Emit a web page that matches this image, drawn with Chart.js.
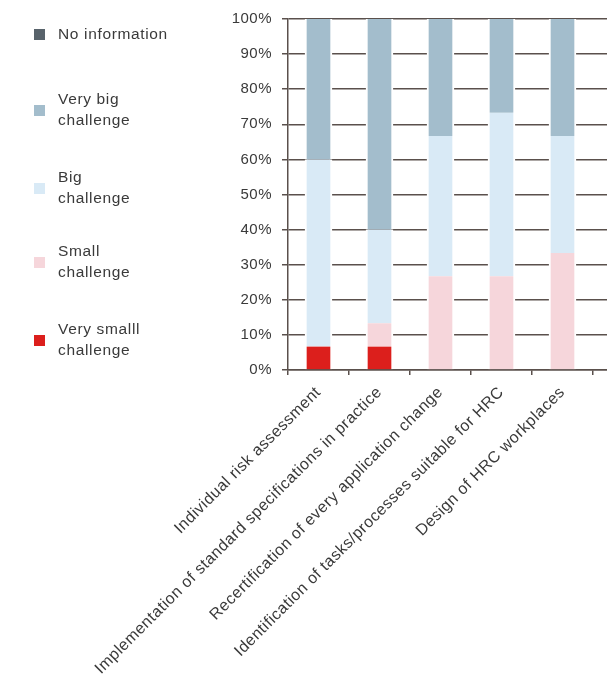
<!DOCTYPE html>
<html>
<head>
<meta charset="utf-8">
<script src="https://cdn.jsdelivr.net/npm/chart.js@4.4.1/dist/chart.umd.min.js"></script>
<style>
  html, body { margin: 0; padding: 0; background: #fff; overflow: hidden; }
  body { width: 607px; height: 686px; position: relative; }
  #wrap { position: absolute; left: 0; top: 0; width: 654px; height: 686px; }
  #legend { position: absolute; left: 34px; top: 0; font-family: "Liberation Sans", Arial, sans-serif;
            font-size: 15.5px; letter-spacing: 0.65px; color: #3a3a3a; }
  .item { position: absolute; left: 0; white-space: nowrap; }
  .box { position: absolute; left: 0; width: 11px; height: 11px; }
  .txt { position: absolute; left: 24px; line-height: 21px; }
</style>
</head>
<body>
<div id="wrap"><canvas id="chart"></canvas></div>
<div id="legend"></div>
<script>
// categorias (a ultima fica fora da janela, como no original recortado)
const categories = [
    'Individual risk assessment',
    'Implementation of standard specifications in practice',
    'Recertification of every application change',
    'Identification of tasks/processes suitable for HRC',
    'Design of HRC workplaces',
    ''
];

// percentagens por resposta
const verySmall   = [6.7, 6.7, 0, 0, 0, null];
const small       = [0, 6.6, 26.7, 26.7, 33.3, null];
const big         = [53.3, 26.7, 40, 46.6, 33.4, null];
const veryBig     = [40, 60, 33.3, 26.7, 33.3, null];
const noInfo      = [0, 0, 0, 0, 0, null];

const seriesNames  = ['Very smalll\nchallenge', 'Small\nchallenge', 'Big\nchallenge', 'Very big\nchallenge', 'No information'];
const seriesColors = ['#dc1f1c', '#f6d6db', '#d9eaf6', '#a3bdcc', '#58636b'];
const yTicks = [0, 10, 20, 30, 40, 50, 60, 70, 80, 90, 100];

const axisColor = '#5a504c';
const fontFamily = '"Liberation Sans", Arial, sans-serif';

const seriesData = [verySmall, small, big, veryBig, noInfo];

const datasets = seriesData.map((data, i) => ({
    label: seriesNames[i],
    data: data,
    backgroundColor: seriesColors[i],
    borderColor: '#ffffff',
    borderWidth: { left: 2, right: 2, top: 0, bottom: 0 },
    borderSkipped: false,
    barThickness: 27
}));

// espaçamento entre letras, como no original
const spacingPlugin = {
    id: 'spacing',
    beforeLayout(chart) { chart.ctx.letterSpacing = '0.5px'; },
    beforeDraw(chart) { chart.ctx.letterSpacing = '0.5px'; }
};

new Chart(document.getElementById('chart'), {
    type: 'bar',
    data: { labels: categories, datasets: datasets },
    plugins: [spacingPlugin],
    options: {
        responsive: true,
        maintainAspectRatio: false,
        animation: false,
        layout: { padding: { left: 220, top: 18, right: 0, bottom: 0 } },
        plugins: {
            legend: { display: false },
            tooltip: { enabled: false }
        },
        scales: {
            x: {
                stacked: true,
                afterFit: (scale) => { scale.height = 316; },
                grid: {
                    display: true,
                    offset: true,
                    drawOnChartArea: false,
                    drawTicks: true,
                    tickLength: 5,
                    color: axisColor,
                    lineWidth: 1.5
                },
                border: { display: true, color: axisColor, width: 1.5 },
                ticks: {
                    autoSkip: false,
                    minRotation: 45,
                    maxRotation: 45,
                    padding: 8,
                    color: '#3a3a3a',
                    font: { family: fontFamily, size: 16 }
                }
            },
            y: {
                stacked: true,
                min: 0,
                max: 100,
                afterFit: (scale) => { scale.width = 68; },
                afterBuildTicks: (scale) => { scale.ticks = yTicks.map(v => ({ value: v })); },
                grid: {
                    color: axisColor,
                    lineWidth: 1.5,
                    tickLength: 6,
                    z: -1
                },
                border: { display: true, color: axisColor, width: 1.5 },
                ticks: {
                    padding: 10,
                    color: '#3a3a3a',
                    font: { family: fontFamily, size: 15 },
                    callback: (v) => v + '%'
                }
            }
        }
    }
});

// legenda em HTML (ordem de cima para baixo)
const legendTops = [34, 110, 188, 262, 340];
const legendEl = document.getElementById('legend');
[4, 3, 2, 1, 0].forEach((idx, k) => {
    const lines = seriesNames[idx].split('\n');
    const y = legendTops[k];
    const item = document.createElement('div');
    item.className = 'item';
    item.style.top = y + 'px';
    const box = document.createElement('div');
    box.className = 'box';
    box.style.background = seriesColors[idx];
    box.style.top = '-5px';
    const txt = document.createElement('div');
    txt.className = 'txt';
    txt.style.top = (-lines.length * 21 / 2 - 1) + 'px';
    txt.innerHTML = lines.join('<br>');
    item.appendChild(box);
    item.appendChild(txt);
    legendEl.appendChild(item);
});
</script>
</body>
</html>
